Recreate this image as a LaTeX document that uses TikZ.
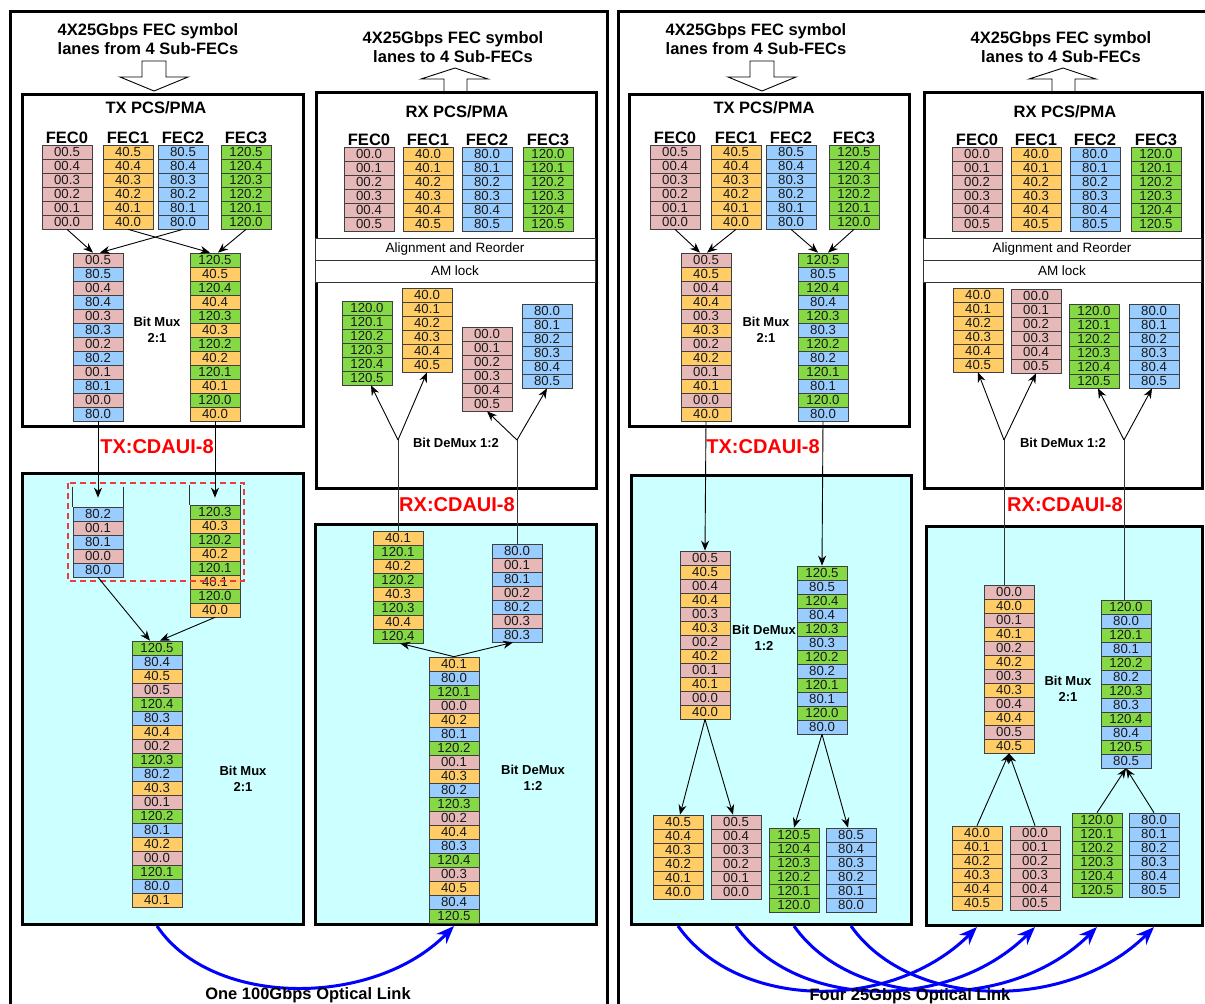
\documentclass[tikz,border=0pt]{standalone}
\usepackage{fontspec}
\setmainfont{Liberation Sans}
\usepackage{xcolor}
\usetikzlibrary{positioning, arrows.meta, calc}
\definecolor{pk}{HTML}{E6B9B8}
\definecolor{og}{HTML}{FFCC66}
\definecolor{bl}{HTML}{99CCFF}
\definecolor{gn}{HTML}{85D945}
\definecolor{lanecyan}{HTML}{CCFFFF}
\definecolor{cdauired}{HTML}{FF0000}
\definecolor{dashred}{HTML}{EE3B3B}
\definecolor{linkblue}{HTML}{0000FF}

\tikzset{
  cell/.style={draw=black!75, line width=0.7pt, minimum width=50pt, minimum height=14pt,
    inner sep=0pt, font=\fontsize{13.2}{13.2}\selectfont, text=black!90},
  panel/.style={draw=black, line width=3pt},
  pcsbox/.style={draw=black, line width=3pt, fill=white, anchor=north west, inner sep=0pt},
  lowbox/.style={draw=black, line width=3pt, fill=lanecyan, anchor=north west, inner sep=0pt},
  strip/.style={draw=black!80, line width=0.8pt, fill=white, minimum height=22pt, inner sep=0pt,
    font=\fontsize{13.5}{13.5}\selectfont},
  head/.style={font=\fontsize{16.5}{18.5}\selectfont\bfseries, align=center},
  fecl/.style={font=\fontsize{16.5}{16.5}\selectfont\bfseries, inner sep=1pt},
  muxl/.style={font=\fontsize{13}{16}\selectfont\bfseries, align=center},
  cdaui/.style={font=\fontsize{20}{20}\selectfont\bfseries, text=cdauired},
  wire/.style={draw=black!80, line width=0.9pt},
  arr/.style={draw=black, line width=0.9pt, -{Stealth[length=10pt, width=8pt]}},
  hollow/.style={draw=black, line width=0.9pt, fill=white},
  link/.style={draw=linkblue, line width=3pt, -{Stealth[length=18pt, width=14pt]}},
}

% a column of symbols: name, left x, top y, list of colour/label
\newcommand{\lane}[4]{%
  \foreach \cl/\lb [count=\i] in {#4}
    \node[cell, fill=\cl] (#1-\i) at ({#2+25},{#3+7+(\i-1)*14}) {\lb};}
% a column of one sub-FEC: name, left x, top y, colour, prefix, order
\newcommand{\fec}[6]{%
  \foreach \k [count=\i] in {#6}
    \node[cell, fill=#4] (#1-\i) at ({#2+25},{#3+7+(\i-1)*14}) {#5.\k};}

\begin{document}
\begin{tikzpicture}[x=1pt, y=-1pt]
  \useasboundingbox (0,0) rectangle (1205,1004);
  \clip (0,0) rectangle (1205,1004);
  \fill[white] (0,0) rectangle (1205,1004);

  % ---------------- left panel: one 100G link ----------------
  \draw[panel] (10,11) rectangle (607,1020);
  \node[head] (ain) at (148,39) {4X25Gbps FEC symbol\\lanes from 4 Sub-FECs};
  \node[head] (aout) at (453,47) {4X25Gbps FEC symbol\\lanes to 4 Sub-FECs};
  \draw[hollow] (142,61) -- (166,61) -- (166,77) -- (188,77) -- (154,91) -- (120,77) -- (142,77) -- cycle;
  \draw[hollow] (444,91) -- (444,79) -- (421,79) -- (455,68) -- (488,79) -- (467,79) -- (467,91);

  \node[pcsbox, minimum width=281pt, minimum height=332pt] (atxbox) at (21,93) {};
  \node[pcsbox, minimum width=280pt, minimum height=396pt] (arxbox) at (315,91) {};
  \node[lowbox, minimum width=281pt, minimum height=451pt] (atxlow) at (21,472) {};
  \node[lowbox, minimum width=281pt, minimum height=400pt] (arxlow) at (314,523) {};
  \node[font=\fontsize{16.5}{16.5}\selectfont\bfseries] at (156,108) {TX PCS/PMA};
  \node[font=\fontsize{16.5}{16.5}\selectfont\bfseries] at (457,112) {RX PCS/PMA};
  \node[strip, minimum width=280pt] (aalign) at (455,249) {Alignment and Reorder};
  \node[strip, minimum width=280pt] (alock) at (455,271) {AM lock};

  % TX side
  \fec{atx0}{42}{145}{pk}{00}{5,4,3,2,1,0}
  \fec{atx1}{103}{145}{og}{40}{5,4,3,2,1,0}
  \fec{atx2}{158}{145}{bl}{80}{5,4,3,2,1,0}
  \fec{atx3}{221}{145}{gn}{120}{5,4,3,2,1,0}
  \node[fecl, above=0pt of atx0-1] {FEC0};
  \node[fecl, above=0pt of atx1-1] {FEC1};
  \node[fecl, above=0pt of atx2-1] {FEC2};
  \node[fecl, above=0pt of atx3-1] {FEC3};
  \lane{amuxa}{73}{253}{pk/00.5,bl/80.5,pk/00.4,bl/80.4,pk/00.3,bl/80.3,pk/00.2,bl/80.2,pk/00.1,bl/80.1,pk/00.0,bl/80.0}
  \lane{amuxb}{190}{253}{gn/120.5,og/40.5,gn/120.4,og/40.4,gn/120.3,og/40.3,gn/120.2,og/40.2,gn/120.1,og/40.1,gn/120.0,og/40.0}
  \lane{abufa}{73}{507}{bl/80.2,pk/00.1,bl/80.1,pk/00.0,bl/80.0}
  \lane{abufb}{190}{505}{gn/120.3,og/40.3,gn/120.2,og/40.2,gn/120.1,og/40.1,gn/120.0,og/40.0}
  \lane{amuxc}{132}{641}{gn/120.5,bl/80.4,og/40.5,pk/00.5,gn/120.4,bl/80.3,og/40.4,pk/00.2,gn/120.3,bl/80.2,og/40.3,pk/00.1,gn/120.2,bl/80.1,og/40.2,pk/00.0,gn/120.1,bl/80.0,og/40.1}
  \draw[wire] ([yshift=20pt]abufa-1.north west) -- (abufa-1.north west);
  \draw[wire] ([yshift=20pt]abufa-1.north east) -- (abufa-1.north east);
  \draw[wire] ([yshift=20pt]abufb-1.north west) -- (abufb-1.north west);
  \draw[wire] ([yshift=20pt]abufb-1.north east) -- (abufb-1.north east);
  \draw[dashred, line width=1.2pt, dash pattern=on 6pt off 4pt] (68,483) rectangle (244,581);

  \draw[arr] (atx0-6.south) -- ([xshift=-5pt]amuxa-1.north);
  \draw[arr] (atx2-6.south) -- ([xshift=2pt]amuxa-1.north);
  \draw[arr] (atx1-6.south) -- ([xshift=-5pt]amuxb-1.north);
  \draw[arr] (atx3-6.south) -- ([xshift=3pt]amuxb-1.north);
  \draw[arr] (amuxa-12.south) -- ([yshift=9pt]abufa-1.north);
  \draw[arr] (amuxb-12.south) -- ([yshift=7pt]abufb-1.north);
  \draw[arr] (abufa-5.south) -- ([xshift=-7pt]amuxc-1.north);
  \draw[arr] (abufb-8.south) -- ([xshift=3pt]amuxc-1.north);

  % RX side
  \fec{arx0}{344}{147}{pk}{00}{0,1,2,3,4,5}
  \fec{arx1}{403}{147}{og}{40}{0,1,2,3,4,5}
  \fec{arx2}{462}{147}{bl}{80}{0,1,2,3,4,5}
  \fec{arx3}{523}{147}{gn}{120}{0,1,2,3,4,5}
  \node[fecl, above=0pt of arx0-1] {FEC0};
  \node[fecl, above=0pt of arx1-1] {FEC1};
  \node[fecl, above=0pt of arx2-1] {FEC2};
  \node[fecl, above=0pt of arx3-1] {FEC3};
  \fec{adx0}{342}{301}{gn}{120}{0,1,2,3,4,5}
  \fec{adx1}{402}{288}{og}{40}{0,1,2,3,4,5}
  \fec{adx2}{462}{327}{pk}{00}{0,1,2,3,4,5}
  \fec{adx3}{522}{304}{bl}{80}{0,1,2,3,4,5}
  \lane{adma}{373}{531}{og/40.1,gn/120.1,og/40.2,gn/120.2,og/40.3,gn/120.3,og/40.4,gn/120.4}
  \lane{admb}{492}{544}{bl/80.0,pk/00.1,bl/80.1,pk/00.2,bl/80.2,pk/00.3,bl/80.3}
  \lane{admc}{429}{657}{og/40.1,bl/80.0,gn/120.1,pk/00.0,og/40.2,bl/80.1,gn/120.2,pk/00.1,og/40.3,bl/80.2,gn/120.3,pk/00.2,og/40.4,bl/80.3,gn/120.4,pk/00.3,og/40.5,bl/80.4,gn/120.5}

  \coordinate (aja) at (398,440);
  \coordinate (ajb) at (517,440);
  \draw[wire] (adma-1.north) -- (aja);
  \draw[wire] (admb-1.north) -- (ajb);
  \draw[arr] (aja) -- ([xshift=4pt]adx0-6.south);
  \draw[arr] (aja) -- (adx1-6.south);
  \draw[arr] (ajb) -- (adx2-6.south);
  \draw[arr] (ajb) -- (adx3-6.south);
  \draw[arr] (admc-1.north) -- ([xshift=2pt]adma-8.south);
  \draw[arr] (admc-1.north) -- ([xshift=-4pt]admb-7.south);

  \node[muxl] at (157,330) {Bit Mux\\2:1};
  \node[muxl] at (456,443) {Bit DeMux 1:2};
  \node[muxl] at (243,779) {Bit Mux\\2:1};
  \node[muxl] at (533,778) {Bit DeMux\\1:2};
  \node[cdaui] at (157,447) {TX:CDAUI-8};
  \node[cdaui] at (457,505) {RX:CDAUI-8};

  \draw[link] (amuxc-19.south |- atxlow.south) .. controls +(55,82) and +(-80,82) .. (admc-19.south |- arxlow.south);
  \node[head] at (308,995) {One 100Gbps Optical Link};

  % ---------------- right panel: four 25G links ----------------
  \draw[panel] (618,11) rectangle (1215,1020);
  \node[head] (bin) at (756,39) {4X25Gbps FEC symbol\\lanes from 4 Sub-FECs};
  \node[head] (bout) at (1061,47) {4X25Gbps FEC symbol\\lanes to 4 Sub-FECs};
  \draw[hollow] (750,61) -- (774,61) -- (774,77) -- (796,77) -- (762,91) -- (728,77) -- (750,77) -- cycle;
  \draw[hollow] (1052,91) -- (1052,79) -- (1029,79) -- (1063,68) -- (1096,79) -- (1075,79) -- (1075,91);

  \node[pcsbox, minimum width=280pt, minimum height=332pt] (btxbox) at (628,93) {};
  \node[pcsbox, minimum width=278pt, minimum height=396pt] (brxbox) at (923,91) {};
  \node[lowbox, minimum width=280pt, minimum height=449pt] (btxlow) at (630,474) {};
  \node[lowbox, minimum width=276pt, minimum height=399pt] (brxlow) at (925,525) {};
  \node[font=\fontsize{16.5}{16.5}\selectfont\bfseries] at (764,108) {TX PCS/PMA};
  \node[font=\fontsize{16.5}{16.5}\selectfont\bfseries] at (1065,112) {RX PCS/PMA};
  \node[strip, minimum width=278pt] (balign) at (1062,249) {Alignment and Reorder};
  \node[strip, minimum width=278pt] (block) at (1062,271) {AM lock};

  % TX side
  \fec{btx0}{650}{145}{pk}{00}{5,4,3,2,1,0}
  \fec{btx1}{711}{145}{og}{40}{5,4,3,2,1,0}
  \fec{btx2}{766}{145}{bl}{80}{5,4,3,2,1,0}
  \fec{btx3}{829}{145}{gn}{120}{5,4,3,2,1,0}
  \node[fecl, above=0pt of btx0-1] {FEC0};
  \node[fecl, above=0pt of btx1-1] {FEC1};
  \node[fecl, above=0pt of btx2-1] {FEC2};
  \node[fecl, above=0pt of btx3-1] {FEC3};
  \lane{bmuxa}{681}{253}{pk/00.5,og/40.5,pk/00.4,og/40.4,pk/00.3,og/40.3,pk/00.2,og/40.2,pk/00.1,og/40.1,pk/00.0,og/40.0}
  \lane{bmuxb}{798}{253}{gn/120.5,bl/80.5,gn/120.4,bl/80.4,gn/120.3,bl/80.3,gn/120.2,bl/80.2,gn/120.1,bl/80.1,gn/120.0,bl/80.0}
  \lane{bdma}{680}{551}{pk/00.5,og/40.5,pk/00.4,og/40.4,pk/00.3,og/40.3,pk/00.2,og/40.2,pk/00.1,og/40.1,pk/00.0,og/40.0}
  \lane{bdmb}{797}{566}{gn/120.5,bl/80.5,gn/120.4,bl/80.4,gn/120.3,bl/80.3,gn/120.2,bl/80.2,gn/120.1,bl/80.1,gn/120.0,bl/80.0}
  \fec{bdx0}{653}{815}{og}{40}{5,4,3,2,1,0}
  \fec{bdx1}{711}{815}{pk}{00}{5,4,3,2,1,0}
  \fec{bdx2}{769}{828}{gn}{120}{5,4,3,2,1,0}
  \fec{bdx3}{826}{828}{bl}{80}{5,4,3,2,1,0}

  \draw[arr] (btx0-6.south) -- ([xshift=-6pt]bmuxa-1.north);
  \draw[arr] (btx1-6.south) -- ([xshift=1pt]bmuxa-1.north);
  \draw[arr] (btx2-6.south) -- ([xshift=-5pt]bmuxb-1.north);
  \draw[arr] (btx3-6.south) -- ([xshift=5pt]bmuxb-1.north);
  \draw[arr] (bmuxa-12.south) -- (bdma-1.north);
  \draw[arr] (bmuxb-12.south) -- (bdmb-1.north);
  \draw[arr] (bdma-12.south) -- ([xshift=2pt]bdx0-1.north);
  \draw[arr] (bdma-12.south) -- ([xshift=-3pt]bdx1-1.north);
  \draw[arr] (bdmb-12.south) -- (bdx2-1.north);
  \draw[arr] (bdmb-12.south) -- ([xshift=-3pt]bdx3-1.north);

  % RX side
  \fec{brx0}{952}{147}{pk}{00}{0,1,2,3,4,5}
  \fec{brx1}{1011}{147}{og}{40}{0,1,2,3,4,5}
  \fec{brx2}{1070}{147}{bl}{80}{0,1,2,3,4,5}
  \fec{brx3}{1131}{147}{gn}{120}{0,1,2,3,4,5}
  \node[fecl, above=0pt of brx0-1] {FEC0};
  \node[fecl, above=0pt of brx1-1] {FEC1};
  \node[fecl, above=0pt of brx2-1] {FEC2};
  \node[fecl, above=0pt of brx3-1] {FEC3};
  \fec{bsp0}{953}{288}{og}{40}{0,1,2,3,4,5}
  \fec{bsp1}{1011}{289}{pk}{00}{0,1,2,3,4,5}
  \fec{bsp2}{1069}{304}{gn}{120}{0,1,2,3,4,5}
  \fec{bsp3}{1129}{304}{bl}{80}{0,1,2,3,4,5}
  \lane{bmxa}{984}{585}{pk/00.0,og/40.0,pk/00.1,og/40.1,pk/00.2,og/40.2,pk/00.3,og/40.3,pk/00.4,og/40.4,pk/00.5,og/40.5}
  \lane{bmxb}{1101}{600}{gn/120.0,bl/80.0,gn/120.1,bl/80.1,gn/120.2,bl/80.2,gn/120.3,bl/80.3,gn/120.4,bl/80.4,gn/120.5,bl/80.5}
  \fec{brl0}{952}{826}{og}{40}{0,1,2,3,4,5}
  \fec{brl1}{1010}{826}{pk}{00}{0,1,2,3,4,5}
  \fec{brl2}{1072}{813}{gn}{120}{0,1,2,3,4,5}
  \fec{brl3}{1129}{813}{bl}{80}{0,1,2,3,4,5}

  \coordinate (bjc) at (1004,440);
  \coordinate (bjd) at (1124,440);
  \draw[wire] (bjc) -- (bjc |- bmxa-1.north);
  \draw[wire] (bjd) -- (bjd |- bmxb-1.north);
  \draw[arr] (bjc) -- (bsp0-6.south);
  \draw[arr] (bjc) -- (bsp1-6.south);
  \draw[arr] (bjd) -- ([xshift=4pt]bsp2-6.south);
  \draw[arr] (bjd) -- ([xshift=-2pt]bsp3-6.south);
  \draw[arr] (brl0-1.north) -- (bmxa-12.south);
  \draw[arr] (brl1-1.north) -- (bmxa-12.south);
  \draw[arr] (brl2-1.north) -- (bmxb-12.south);
  \draw[arr] (brl3-1.north) -- (bmxb-12.south);

  \node[muxl] at (766,330) {Bit Mux\\2:1};
  \node[muxl] at (1063,443) {Bit DeMux 1:2};
  \node[muxl] at (764,638) {Bit DeMux\\1:2};
  \node[muxl] at (1068,689) {Bit Mux\\2:1};
  \node[cdaui] at (763,447) {TX:CDAUI-8};
  \node[cdaui] at (1065,505) {RX:CDAUI-8};

  \foreach \n in {0,...,3}
    \draw[link] (bdx\n-6.south |- btxlow.south) .. controls +(60,85) and +(-85,85) .. (brl\n-1.north |- brxlow.south);
  \node[head] at (910,996) {Four 25Gbps Optical Link};
\end{tikzpicture}
\end{document}
